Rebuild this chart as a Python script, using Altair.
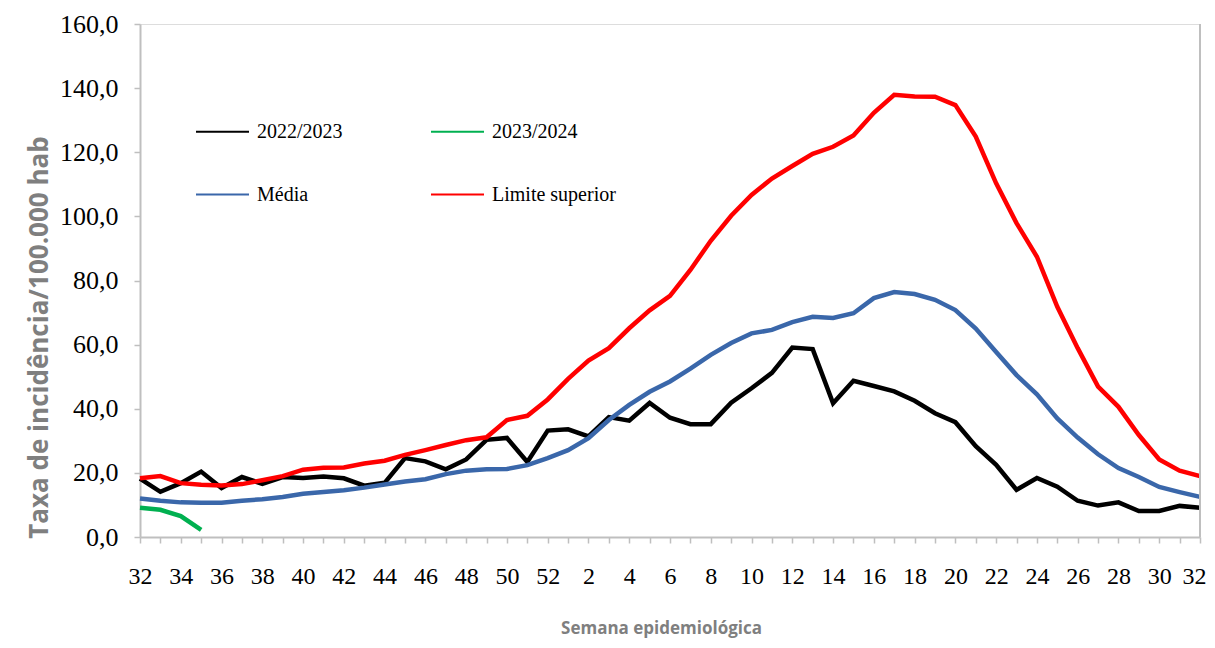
import altair as alt
import pandas as pd

weeks = list(range(32, 53)) + list(range(1, 33))

s2022 = [18.2, 14.1, 16.8, 20.4, 15.3, 18.7, 16.6, 18.7, 18.4, 18.9, 18.3, 16.0, 16.9,
         24.6, 23.6, 21.1, 24.2, 30.3, 30.9, 23.4, 33.2, 33.6, 31.4, 37.4, 36.3, 41.8,
         37.2, 35.2, 35.2, 41.9, 46.4, 51.2, 59.1, 58.6, 41.7, 48.7, 47.1, 45.4, 42.5,
         38.6, 35.8, 28.3, 22.5, 14.7, 18.4, 15.7, 11.3, 9.8, 10.8, 8.1, 8.1, 9.7, 9.1]
s2023 = [9.1, 8.5, 6.5, 2.2]
media = [12.0, 11.3, 10.8, 10.7, 10.7, 11.3, 11.8, 12.5, 13.5, 14.0, 14.6, 15.4, 16.4,
         17.3, 18.0, 19.6, 20.7, 21.1, 21.2, 22.4, 24.6, 27.1, 30.8, 36.5, 41.2, 45.3,
         48.5, 52.5, 56.8, 60.5, 63.5, 64.6, 67.0, 68.7, 68.3, 69.8, 74.5, 76.4, 75.8,
         74.0, 70.8, 65.0, 57.7, 50.5, 44.5, 37.0, 31.0, 25.8, 21.5, 18.7, 15.6, 14.0, 12.5]
limite = [18.3, 19.0, 16.8, 16.3, 16.1, 16.5, 17.7, 19.0, 21.0, 21.6, 21.7, 22.9, 23.8,
          25.6, 27.1, 28.7, 30.2, 31.1, 36.5, 37.8, 42.9, 49.3, 55.0, 58.9, 65.1, 70.7,
          75.2, 83.3, 92.4, 100.2, 106.7, 111.8, 115.7, 119.5, 121.7, 125.2, 132.3, 137.9,
          137.4, 137.3, 134.7, 124.9, 110.3, 97.9, 87.4, 71.8, 58.9, 46.9, 40.6, 31.8,
          24.2, 20.7, 19.0]

series_names = ["2022/2023", "2023/2024", "Média", "Limite superior"]
series_colors = ["#000000", "#00B050", "#3A67AA", "#FF0000"]

rows = []
for name, vals in zip(series_names, [s2022, s2023, media, limite]):
    for i, v in enumerate(vals):
        rows.append({"i": i, "semana": weeks[i], "valor": v, "serie": name})
df = pd.DataFrame(rows)

W, H = 1060, 513
last = len(weeks) - 1
week_js = "[" + ",".join(str(w) for w in weeks) + "]"
x_label_expr = f"datum.value % 2 == 0 ? '' + {week_js}[datum.value] : ''"

lines = alt.Chart(df).mark_line(strokeWidth=4.5, strokeJoin="miter").encode(
    x=alt.X("i:Q",
            scale=alt.Scale(domain=[0, last], nice=False, zero=False),
            axis=alt.Axis(values=list(range(len(weeks))), labelExpr=x_label_expr,
                          title="Semana epidemiológica", grid=False,
                          tickSize=6, tickColor="#BFBFBF", tickWidth=1.5,
                          domainColor="#BFBFBF", domainWidth=2,
                          labelFont="Liberation Serif", labelFontSize=24,
                          labelColor="#000000", labelPadding=21, labelFlush=False,
                          labelOverlap=False,
                          labelOffset=alt.expr(f"datum.value == {last} ? -6 : 0"),
                          titleFont="Open Sans", titleFontSize=17,
                          titleFontWeight="bold", titleColor="#7F7F7F",
                          titleX=521, titleY=91, titleBaseline="middle",
                          titleAnchor="start", titleAlign="center")),
    y=alt.Y("valor:Q",
            scale=alt.Scale(domain=[0, 160], nice=False),
            axis=alt.Axis(values=list(range(0, 161, 20)),
                          labelExpr="replace(format(datum.value, '.1f'), '.', ',')",
                          title="Taxa de incidência/100.000 hab", grid=False,
                          tickSize=6, tickColor="#BFBFBF", tickWidth=1.5,
                          domainColor="#BFBFBF", domainWidth=2,
                          labelFont="Liberation Serif", labelFontSize=26,
                          labelColor="#000000", labelPadding=16, labelFlush=False,
                          titleFont="Open Sans", titleFontSize=26,
                          titleFontWeight="bold", titleColor="#7F7F7F",
                          titleX=-101, titleY=313, titleAngle=-90,
                          titleBaseline="middle", titleAlign="center",
                          titleAnchor="start")),
    color=alt.Color("serie:N",
                    scale=alt.Scale(domain=series_names, range=series_colors),
                    legend=alt.Legend(orient="none", legendX=55, legendY=80,
                                      direction="horizontal",
                                      columns=2, columnPadding=84, rowPadding=25,
                                      title=None, symbolType="stroke",
                                      symbolSize=2809, symbolStrokeWidth=2,
                                      labelFont="Liberation Serif", labelFontSize=20,
                                      labelColor="#000000", labelOffset=7,
                                      padding=0)),
    detail="serie:N",
)

border = alt.Chart(df).mark_rule(color="#BFBFBF", strokeWidth=2).encode(
    x=alt.value(W), y=alt.value(0), y2=alt.value(H)
)

chart = alt.layer(lines, border).properties(
    width=W, height=H,
    autosize=alt.AutoSizeParams(type="none"),
    padding={"left": 132, "top": 16, "right": 7, "bottom": 102},
).configure_view(stroke=None).configure(background="#FFFFFF")

chart.save("out.html", embed_options={"renderer": "svg", "actions": False})
